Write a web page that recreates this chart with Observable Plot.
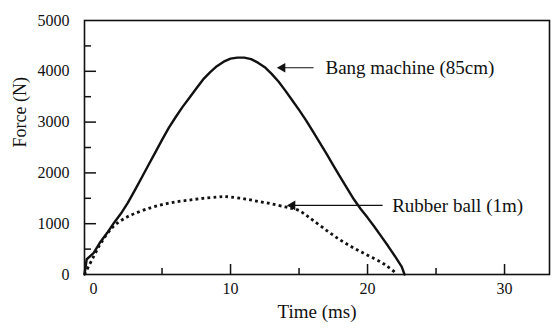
<!DOCTYPE html>
<html><head><meta charset="utf-8">
<script src="https://cdn.jsdelivr.net/npm/d3@7"></script>
<script src="https://cdn.jsdelivr.net/npm/@observablehq/plot@0.6"></script>
<style>
html,body{margin:0;padding:0;background:#fff;}
</style>
</head><body>
<div id="chart"></div>
<script>
// Bang machine (85cm) — solid curve
const bangT = [-0.66,-0.5,0,0.5,1,1.5,2,2.5,3,3.5,4,4.5,5,5.5,6,6.5,7,7.5,8,8.5,9,9.5,10,10.5,11,11.5,12,12.5,13,13.5,14,14.5,15,15.5,16,16.5,17,17.5,18,18.5,19,19.5,20,20.5,21,21.5,22,22.5,22.7];
const bangF = [0,300,420,640,820,1020,1200,1410,1650,1900,2150,2400,2650,2890,3100,3300,3480,3660,3840,3980,4100,4190,4250,4270,4270,4240,4170,4080,3950,3800,3620,3430,3240,3040,2820,2600,2380,2150,1920,1700,1480,1290,1120,940,750,560,360,150,0];
// Rubber ball (1m) — dotted curve
const ballT = [-0.66,0,0.5,1,1.5,2,2.5,3,4,5,6,7,8,9,9.5,10,11,12,13,14,14.5,15,15.5,16,17,18,19,20,21,21.5,22,22.1];
const ballF = [0,350,600,800,960,1060,1140,1200,1300,1375,1430,1465,1500,1525,1535,1525,1490,1440,1390,1330,1300,1260,1170,1070,870,680,520,380,240,150,40,0];
// axis ticks
const xTickLabels = [0,10,20,30];
const xMinorTicks = [5,15,25];
const yTickLabels = [0,1000,2000,3000,4000,5000];
const yMinorTicks = [500,1500,2500,3500,4500];
// annotations
const annoText = ["Bang machine (85cm)", "Rubber ball (1m)"];
const annoTextX = [16.93, 21.8];
const annoY = [4070, 1360];
const arrowTail = [16.06, 21.1];
const arrowTip = [13.5, 14.23];

const bang = bangT.map((t,i)=>({t, f: bangF[i]}));
const ball = ballT.map((t,i)=>({t, f: ballF[i]}));
const annos = annoText.map((s,i)=>({s, x: annoTextX[i], y: annoY[i], x1: arrowTail[i], x2: arrowTip[i]}));

const W = 554, H = 329, mL = 84, mR = 5, mT = 20, mB = 55;
const pw = W - mL - mR, ph = H - mT - mB;
const font = "'Liberation Serif','Times New Roman',serif";
const ink = "#111";

const chart = Plot.plot({
  width: W, height: H,
  marginLeft: mL, marginRight: mR, marginTop: mT, marginBottom: mB,
  style: {fontFamily: font, fontSize: "16px", color: ink, background: "#fff"},
  x: {domain: [-0.66, -0.66 + pw/13.7]},
  y: {domain: [0, 5000]},
  marks: [
    Plot.axisY({ticks: yTickLabels, tickFormat: d3.format("d"), tickSize: 0, tickPadding: 15, label: null, fontSize: 16, fontFamily: font}),
    Plot.axisX({ticks: xTickLabels, tickFormat: d3.format("d"), tickSize: 0, tickPadding: 8, label: null, fontSize: 16, fontFamily: font}),
    Plot.tickY(yTickLabels.slice(1,5), {y: d=>d, insetRight: pw - 12, stroke: ink, strokeWidth: 1.5}),
    Plot.tickY(yMinorTicks, {y: d=>d, insetRight: pw - 7, stroke: ink, strokeWidth: 1.5}),
    Plot.tickX(xTickLabels.slice(1,4), {x: d=>d, insetTop: ph - 10, stroke: ink, strokeWidth: 1.5}),
    Plot.tickX(xMinorTicks, {x: d=>d, insetTop: ph - 6, stroke: ink, strokeWidth: 1.5}),
    Plot.line(bang, {x: "t", y: "f", stroke: ink, strokeWidth: 2.4}),
    Plot.line(ball, {x: "t", y: "f", stroke: ink, strokeWidth: 2.8, strokeLinecap: "butt", strokeDasharray: "2.8,3.2", curve: "catmull-rom"}),
    Plot.link(annos, {x1: "x1", x2: "x2", y1: "y", y2: "y", stroke: ink, strokeWidth: 1.2}),
    Plot.dot(annos, {x: "x2", y: "y", symbol: "triangle", r: 3.6, rotate: -90, fill: ink, stroke: "none", dx: 4}),
    Plot.text(annos, {x: "x", y: "y", text: "s", textAnchor: "start", fontSize: 19, fill: ink, fontFamily: font}),
    Plot.text(["Time (ms)"], {frameAnchor: "bottom", dy: 43, fontSize: 19, fill: ink, fontFamily: font}),
    Plot.text(["Force (N)"], {frameAnchor: "left", dx: -64, rotate: -90, fontSize: 18, fill: ink, fontFamily: font}),
    Plot.frame({stroke: ink, strokeWidth: 1.6})
  ]
});
document.getElementById("chart").appendChild(chart);
</script>
</body></html>
